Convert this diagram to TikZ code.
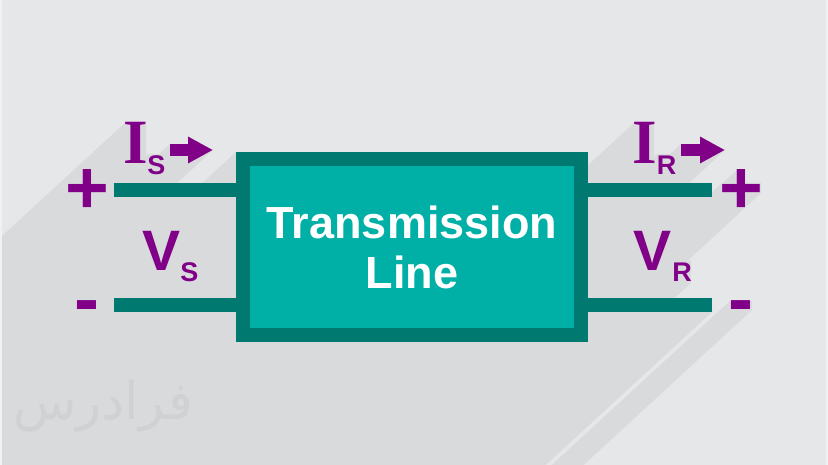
\documentclass[tikz,border=0pt]{standalone}
\usepackage{fontspec}
\setmainfont{Liberation Sans}
\newfontfamily\slabfont{Liberation Serif}
\newfontfamily\arabicfont[Script=Arabic]{DejaVu Sans}
\TeXXeTstate=1
\usetikzlibrary{arrows.meta}
\definecolor{bgc}{RGB}{230,231,233}
\definecolor{edgec}{RGB}{240,241,242}
\definecolor{shc}{RGB}{217,218,220}
\definecolor{tealD}{RGB}{0,122,112}
\definecolor{tealL}{RGB}{0,175,165}
\definecolor{purp}{RGB}{128,0,136}
\definecolor{wmk}{RGB}{208,209,211}
\newcommand\rshadow[4]{\fill[shc] (#1,#2) -- (#3,#2) -- (#3,#4) -- ++(-1000,920) -- ({#1-1000},{#2+920}) -- cycle;}
\tikzset{
  lbl/.style={inner sep=0pt, outer sep=0pt, text=purp, anchor=base},
  bigI/.style={lbl, font=\slabfont\bfseries\fontsize{63}{63}\selectfont},
  bigV/.style={lbl, font=\bfseries\fontsize{57}{57}\selectfont},
  subl/.style={lbl, font=\bfseries\fontsize{27}{27}\selectfont},
  sign/.style={lbl, font=\bfseries\fontsize{75}{75}\selectfont},
  wire/.style={draw=tealD, line width=14pt},
  curarrow/.style={purp, line width=12pt, -{Triangle[length=25pt,width=25pt]}}
}
\begin{document}
\begin{tikzpicture}[x=1pt,y=-1pt]
\useasboundingbox (0,0) rectangle (828,465);
\begin{scope}
\clip (0,0) rectangle (828,465);
\fill[bgc] (0,0) rectangle (828,465);
% long shadows
\rshadow{236}{152}{588}{342}
\rshadow{114}{183}{236}{197}
\rshadow{114}{298}{236}{312}
\rshadow{588}{183}{712}{197}
\rshadow{588}{298}{712}{312}
\rshadow{68}{183}{106}{193}
\rshadow{82}{170}{90}{207}
\rshadow{722}{183}{761}{193}
\rshadow{737}{170}{745}{207}
\rshadow{75}{301}{98}{310}
\rshadow{730}{301}{752}{310}
\rshadow{126}{122}{146}{164}
\rshadow{148}{154}{165}{176}
\rshadow{635}{122}{654}{164}
\rshadow{657}{154}{676}{176}
\rshadow{181}{261}{198}{283}
\rshadow{673}{261}{691}{283}
\fill[shc] (170,144) -- (188,144) -- (188,138) -- (213,150) -- ++(-1000,920) -- (-830,1064) -- cycle;
\fill[shc] (681,144) -- (700,144) -- (700,138) -- (725,150) -- ++(-1000,920) -- (-319,1064) -- cycle;
\fill[shc] (142,230) -- (181,230) -- (168,271) -- ++(-1000,920) -- (-858,1150) -- cycle;
\fill[shc] (633,230) -- (672,230) -- (659,271) -- ++(-1000,920) -- (-367,1150) -- cycle;
\fill[edgec] (0,0) rectangle (2,465);
\fill[edgec] (826,0) rectangle (828,465);
\end{scope}
% watermark
\node[font=\arabicfont\fontsize{52}{52}\selectfont, text=wmk, inner sep=0pt] (wm) at (103,406) {\beginR فرادرس\endR};
% box
\node[draw=tealD, line width=14pt, fill=tealL, minimum width=338pt, minimum height=176pt,
      inner sep=0pt, text=white, font=\bfseries\fontsize{45}{50}\selectfont, align=center] (tl) at (412,247) {Transmission\\Line};
% wires
\coordinate (sp) at (114,190);
\coordinate (sm) at (114,305);
\coordinate (rp) at (712,190);
\coordinate (rm) at (712,305);
\draw[wire] (sp) -- (sp -| tl.west);
\draw[wire] (sm) -- (sm -| tl.west);
\draw[wire] (rp) -- (rp -| tl.east);
\draw[wire] (rm) -- (rm -| tl.east);
% signs
\node[sign] (pS) at (87,214) {+};
\node[sign] (mS) at (86.5,324) {-};
\node[sign] (pR) at (741,214) {+};
\node[sign] (mR) at (741,324) {-};
% currents
\node[bigI] (IS) at (136,164) {I};
\node[subl] (ISs) at (156.5,175) {S};
\node[bigI] (IR) at (644.5,164) {I};
\node[subl] (IRs) at (666.5,175) {R};
\coordinate (asS) at (170,150);
\coordinate (aeS) at (213,150);
\coordinate (asR) at (681,150);
\coordinate (aeR) at (725,150);
\draw[curarrow] (asS) -- (aeS);
\draw[curarrow] (asR) -- (aeR);
% voltages
\node[bigV] (VS) at (161.5,271) {V};
\node[subl] (VSs) at (189.5,282) {S};
\node[bigV] (VR) at (652.5,271) {V};
\node[subl] (VRs) at (682,282) {R};
\end{tikzpicture}
\end{document}
